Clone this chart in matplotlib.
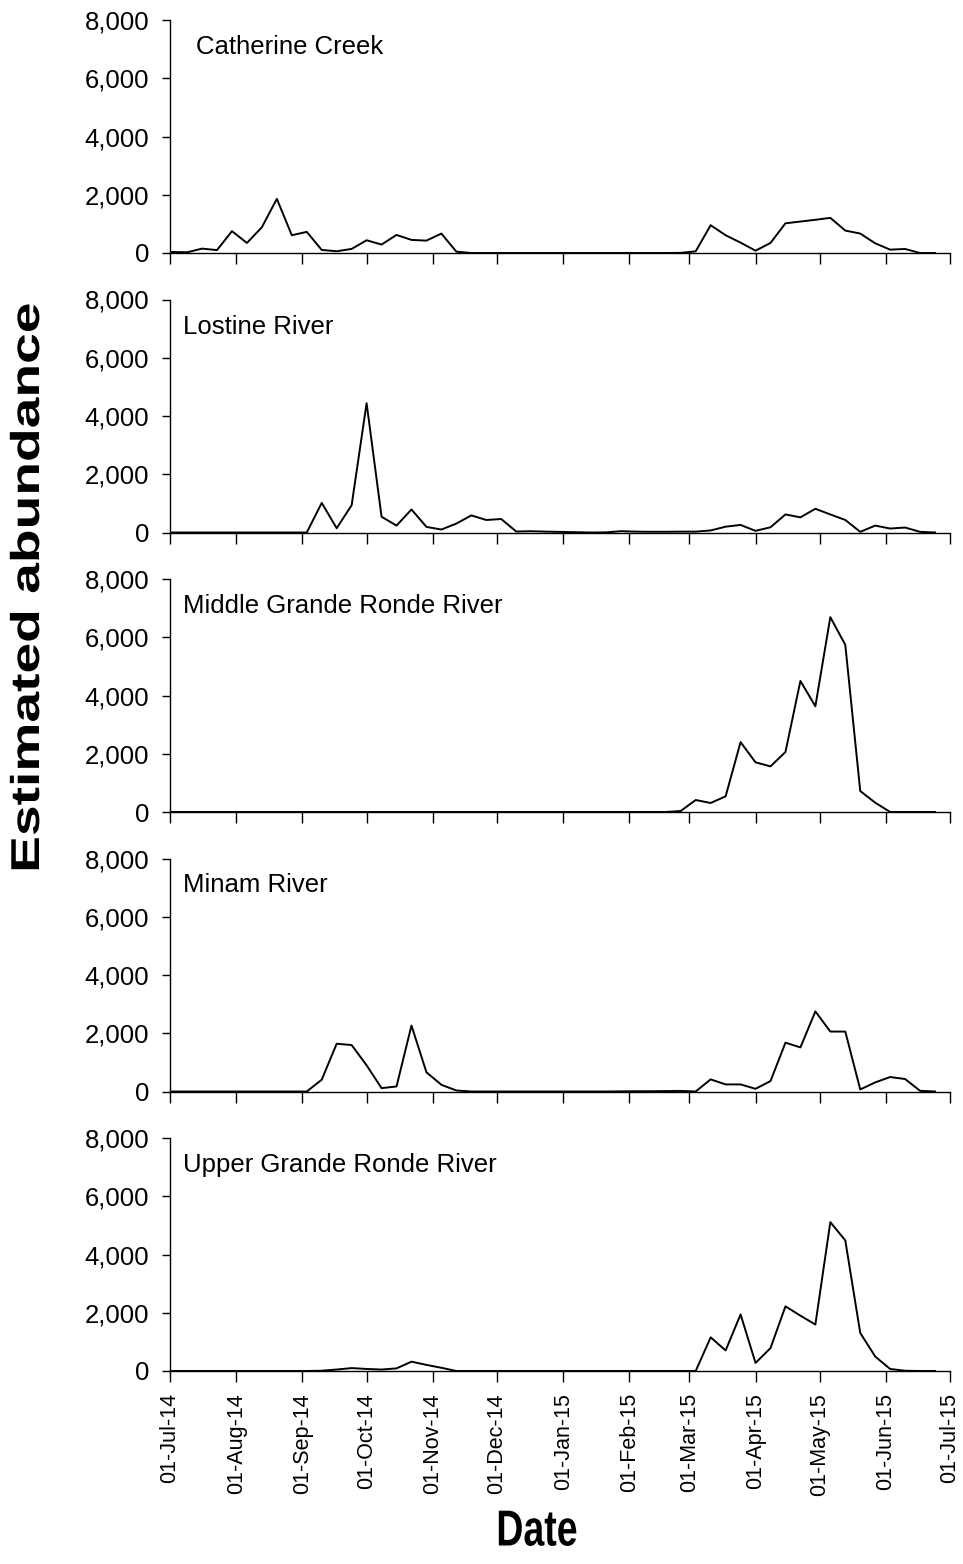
import matplotlib
matplotlib.use("Agg")
import matplotlib.pyplot as plt
import matplotlib.dates as mdates
from matplotlib.ticker import FuncFormatter, FixedLocator
from matplotlib.patheffects import AbstractPathEffect
from matplotlib.transforms import Affine2D
import pandas as pd

plt.rcParams['font.family'] = ['Liberation Sans', 'DejaVu Sans']

# ---- data -------------------------------------------------------------
start_date = "2014-07-02"
n_weeks = 52

sites = ["Catherine Creek", "Lostine River", "Middle Grande Ronde River",
         "Minam River", "Upper Grande Ronde River"]

catherine = [35, 25, 150, 100, 750, 345, 885, 1860, 610, 725,
             105, 60, 140, 437, 290, 620, 450, 425, 667, 46,
             0, 0, 0, 0, 0, 0, 0, 0, 0, 0,
             0, 0, 0, 0, 5, 57, 955, 610, 356, 80,
             345, 1020, 1080, 1140, 1207, 770, 667, 333, 115, 138,
             0, 0]

lostine = [0, 0, 0, 0, 0, 0, 0, 0, 0, 0,
           1017, 147, 938, 4440, 542, 237, 791, 192, 102, 305,
           588, 429, 463, 34, 45, 30, 20, 10, 0, 5,
           45, 30, 25, 25, 30, 30, 70, 200, 260, 56,
           180, 620, 520, 814, 620, 430, 23, 237, 136, 170,
           23, 0]

middle_gr = [0, 0, 0, 0, 0, 0, 0, 0, 0, 0,
             0, 0, 0, 0, 0, 0, 0, 0, 0, 0,
             0, 0, 0, 0, 0, 0, 0, 0, 0, 0,
             0, 0, 0, 0, 35, 412, 309, 538, 2400, 1705,
             1567, 2060, 4500, 3630, 6690, 5740, 720, 320, 0, 0,
             0, 0]

minam = [0, 0, 0, 0, 0, 0, 0, 0, 0, 0,
         405, 1640, 1595, 900, 115, 173, 2265, 660, 230, 35,
         0, 0, 0, 0, 0, 0, 0, 0, 0, 0,
         5, 10, 10, 15, 20, 0, 416, 243, 243, 92,
         358, 1676, 1514, 2750, 2058, 2058, 70, 312, 497, 428,
         23, 0]

upper_gr = [0, 0, 0, 0, 0, 0, 0, 0, 0, 0,
            10, 50, 100, 70, 50, 90, 320, 210, 110, 0,
            0, 0, 0, 0, 0, 0, 0, 0, 0, 0,
            0, 0, 0, 0, 0, 0, 1156, 705, 1942, 277,
            786, 2220, 1900, 1595, 5110, 4485, 1306, 497, 69, 10,
            0, 0]

series = [catherine, lostine, middle_gr, minam, upper_gr]

y_ticks = [0, 2000, 4000, 6000, 8000]
x_start, x_end = "2014-07-01", "2015-07-01"
month_ticks = pd.date_range("2014-07-01", "2015-07-01", freq="MS")

dates = pd.date_range(start_date, periods=n_weeks, freq="7D")


# ---- helper: stretch text glyphs (text stays a Text artist) ------------
class Stretch(AbstractPathEffect):
    def __init__(self, center, sx=1.0, sy=1.0):
        super().__init__()
        self.center = center
        self.sx, self.sy = sx, sy

    def draw_path(self, renderer, gc, tpath, affine, rgbFace=None):
        cx, cy = self.center
        extra = (Affine2D().translate(-cx, -cy)
                 .scale(self.sx, self.sy).translate(cx, cy))
        renderer.draw_path(gc, tpath, affine + extra, rgbFace)


# ---- figure -----------------------------------------------------------
W, H = 963, 1564
fig = plt.figure(figsize=(W / 100, H / 100), dpi=100)

left_px, right_px = 170, 950
top0, pitch, height = 20, 279.5, 233
title_x = [196, 183, 183, 183, 183]

for k, (name, vals) in enumerate(zip(sites, series)):
    top = top0 + pitch * k
    ax = fig.add_axes([left_px / W, 1 - (top + height) / H,
                       (right_px - left_px) / W, height / H])
    ax.plot(dates, vals, color="black", lw=1.4)
    ax.set_xlim(pd.Timestamp(x_start), pd.Timestamp(x_end))
    ax.set_ylim(0, 8000)
    ax.yaxis.set_major_locator(FixedLocator(y_ticks))
    ax.yaxis.set_major_formatter(FuncFormatter(lambda v, p: f"{v:,.0f}"))
    ax.xaxis.set_major_locator(FixedLocator(mdates.date2num(month_ticks)))
    ax.xaxis.set_major_formatter(mdates.DateFormatter("%d-%b-%y"))
    for s in ["top", "right"]:
        ax.spines[s].set_visible(False)
    for s in ["left", "bottom"]:
        ax.spines[s].set_linewidth(1.0)
        ax.spines[s].set_color("black")
    ax.tick_params(axis="y", direction="out", length=6, width=1.0,
                   labelsize=18.5, pad=9, colors="black")
    ax.tick_params(axis="x", direction="out", length=8, width=1.0,
                   labelsize=15.5, pad=8, colors="black")
    if k < len(sites) - 1:
        ax.tick_params(axis="x", labelbottom=False)
    else:
        for lbl in ax.get_xticklabels():
            lbl.set_rotation(90)
    fig.text(title_x[k] / W, 1 - (top + 27) / H, name, fontsize=18.5,
             ha="left", va="center")

yl_x, yl_y = 28, 1564 - 588
fig.text(yl_x / W, yl_y / H, "Estimated abundance", rotation=90,
         ha="center", va="center", fontsize=29, fontweight="bold",
         path_effects=[Stretch((yl_x, yl_y), sx=1.0, sy=1.37)])

d_x, d_y = 537, 1564 - 1532
fig.text(d_x / W, d_y / H, "Date", ha="center", va="center",
         fontsize=27, fontweight="bold",
         path_effects=[Stretch((d_x, d_y), sx=1.0, sy=1.35)])

fig.savefig("out.png", dpi=100, facecolor="white")
